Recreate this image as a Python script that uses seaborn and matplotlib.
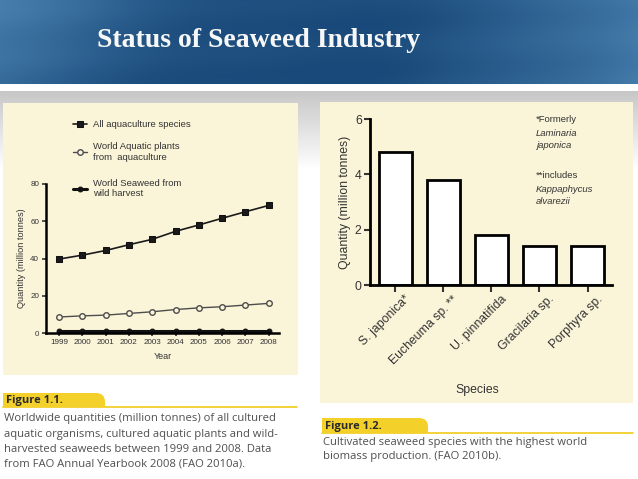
import numpy as np
import matplotlib
matplotlib.use("Agg")
import matplotlib.pyplot as plt
import seaborn as sns
from matplotlib.patches import Rectangle, FancyBboxPatch
from matplotlib.transforms import ScaledTranslation

# Figure 1.1 - quantities (million tonnes)
years = [1999, 2000, 2001, 2002, 2003, 2004, 2005, 2006, 2007, 2008]
all_aquaculture = [39.7, 41.8, 44.3, 47.4, 50.3, 54.6, 58.0, 61.6, 65.1, 68.5]
aquatic_plants = [8.6, 9.2, 9.6, 10.5, 11.4, 12.6, 13.5, 14.1, 15.0, 15.9]
wild_seaweed = [1.1, 1.1, 1.1, 1.1, 1.1, 1.1, 1.1, 1.1, 1.1, 1.1]
line_labels = ["All aquaculture species",
               "World Aquatic plants\nfrom  aquaculture",
               "World Seaweed from\nwild harvest"]

# Figure 1.2 - cultivated seaweed species
species = ["S. japonica*", "Eucheuma sp. **", "U. pinnatifida", "Gracilaria sp.", "Porphyra sp."]
quantity = [4.8, 3.8, 1.8, 1.4, 1.4]

W, H = 638, 479
BEIGE = "#faf4d8"
YELLOW = "#f3d02a"
TXT = "#333333"
CAP = "#505050"


def fx(px):
    return px / W


def fy(py):
    return 1 - py / H


sns.set_theme(style="ticks")
plt.rcParams["font.family"] = ["Liberation Sans", "DejaVu Sans"]

fig = plt.figure(figsize=(W / 100, H / 100), dpi=100, facecolor="white")

# background layer in pixel coordinates
bg = fig.add_axes([0, 0, 1, 1])
bg.axis("off")

# blue banner (smooth water-like gradient)
xx, yy = np.meshgrid(np.linspace(0, 1, 320), np.linspace(0, 1, 42))
t = 0.9 * (xx - 0.45) ** 2 / 0.34
t = t + 0.30 * (1 - yy) * np.exp(-(xx / 0.28) ** 2)
t = t + 0.07 * np.sin(10 * xx + 6 * yy) * np.cos(5 * yy - 7 * xx)
t = np.clip(t * 0.85, 0, 1)
dark = np.array([0.10, 0.29, 0.48])
light = np.array([0.34, 0.57, 0.75])
img = dark[None, None, :] + (light - dark)[None, None, :] * t[:, :, None]
bg.imshow(img, extent=[0, W, 84, 0], aspect="auto", zorder=1)

# grey shadow band under banner
g = np.linspace(0.78, 1.0, 60)[:, None, None] * np.ones((1, 2, 3))
bg.imshow(g, extent=[0, W, 170, 91], aspect="auto", zorder=1)

# beige panels
bg.add_patch(Rectangle((3, 103), 295, 272, facecolor=BEIGE, edgecolor="none", zorder=2))
bg.add_patch(Rectangle((320, 102), 313, 301, facecolor=BEIGE, edgecolor="none", zorder=2))
bg.set_xlim(0, W)
bg.set_ylim(H, 0)

# title
bg.text(259, 40, "Status of Seaweed Industry", color="#f7f7f7", fontsize=20,
        fontweight="bold", family=["Liberation Serif", "DejaVu Serif"],
        ha="center", va="center", zorder=3)


def caption_tab(x0, x1, ytop, ybot, xline):
    bg.add_patch(FancyBboxPatch((x0, ytop), x1 - x0, (ybot - ytop) + 10,
                                boxstyle="round,pad=0,rounding_size=9",
                                facecolor=YELLOW, edgecolor="none", zorder=3))
    bg.add_patch(Rectangle((x0, ytop), (x1 - x0) * 0.6, ybot - ytop,
                           facecolor=YELLOW, edgecolor="none", zorder=3))
    bg.add_patch(Rectangle((x0, ybot), x1 - x0 + 2, 12,
                           facecolor="white", edgecolor="none", zorder=4))
    bg.plot([x0, xline], [ybot, ybot], color=YELLOW, lw=1.3, zorder=5)


caption_tab(3, 105, 393, 407, 297)
caption_tab(322, 428, 418, 433, 633)

cap_font = ["Open Sans", "DejaVu Sans"]
bg.text(6, 401, "Figure 1.1.", fontsize=8, fontweight="bold", color="#2a2a2a",
        family=cap_font, va="center", zorder=6)
bg.text(325, 426, "Figure 1.2.", fontsize=8, fontweight="bold", color="#2a2a2a",
        family=cap_font, va="center", zorder=6)
cap1 = ["Worldwide quantities (million tonnes) of all cultured",
        "aquatic organisms, cultured aquatic plants and wild-",
        "harvested seaweeds between 1999 and 2008. Data",
        "from FAO Annual Yearbook 2008 (FAO 2010a)."]
for i, line in enumerate(cap1):
    bg.text(4, 419 + 15 * i, line, fontsize=8.1, color=CAP, family=cap_font,
            va="center", zorder=6)
cap2 = ["Cultivated seaweed species with the highest world",
        "biomass production. (FAO 2010b)."]
for i, line in enumerate(cap2):
    bg.text(323, 442 + 15 * i, line, fontsize=8.1, color=CAP, family=cap_font,
            va="center", zorder=6)

# ---------------- Figure 1.1 line chart ----------------
ax1 = fig.add_axes([fx(46), fy(333), fx(279) - fx(46), fy(184) - fy(333)])
ax1.set_facecolor("none")
sns.lineplot(x=years, y=all_aquaculture, ax=ax1, color="#1a1a1a", lw=1.2,
             marker="s", markersize=4.5, markeredgecolor="#111111",
             label=line_labels[0], clip_on=False)
sns.lineplot(x=years, y=aquatic_plants, ax=ax1, color="#4d4d4d", lw=1.0,
             marker="o", markersize=4, markerfacecolor=BEIGE,
             markeredgecolor="#4d4d4d", markeredgewidth=1.0,
             label=line_labels[1], clip_on=False)
sns.lineplot(x=years, y=wild_seaweed, ax=ax1, color="#111111", lw=2.2,
             marker="o", markersize=3.5, markeredgecolor="#111111",
             label=line_labels[2], clip_on=False)
ax1.set_xlim(1998.44, 2008.44)
ax1.set_ylim(0, 80)
ax1.set_xticks(years)
ax1.set_yticks([0, 20, 40, 60, 80])
ax1.tick_params(axis="both", labelsize=5.8, colors=TXT, width=1.2, length=3, pad=2)
ax1.tick_params(axis="x", direction="inout", length=5)
for s in ["left", "bottom"]:
    ax1.spines[s].set_linewidth(1.8)
    ax1.spines[s].set_color("black")
sns.despine(ax=ax1)
ax1.set_xlabel("Year", fontsize=6.5, color=TXT, labelpad=4)
ax1.set_ylabel("Quantity (million tonnes)", fontsize=6.6, color=TXT, labelpad=3)

handles, labels = ax1.get_legend_handles_labels()
leg_kw = dict(loc="upper left", frameon=False, fontsize=6.8, borderpad=0,
              borderaxespad=0, handlelength=1.5, handletextpad=0.65,
              labelspacing=1.4, labelcolor=TXT, bbox_transform=fig.transFigure)
leg_top = ax1.legend(handles[:2], labels[:2], bbox_to_anchor=(fx(73), fy(120)), **leg_kw)
ax1.add_artist(leg_top)
ax1.legend(handles[2:], labels[2:], bbox_to_anchor=(fx(73), fy(179)), **leg_kw)

# ---------------- Figure 1.2 bar chart ----------------
ax2 = fig.add_axes([fx(370), fy(285), fx(612) - fx(370), fy(119) - fy(285)])
ax2.set_facecolor("none")
sns.barplot(x=species, y=quantity, ax=ax2, color="white", saturation=1,
            edgecolor="black", linewidth=2, width=0.69)
ax2.set_xlim(-0.53, 4.51)
ax2.set_ylim(0, 6)
ax2.set_yticks([0, 2, 4, 6])
ax2.set_xticks(range(len(species)))
ax2.set_xticklabels(species, rotation=45, ha="right", rotation_mode="anchor")
ax2.tick_params(axis="both", labelsize=8.8, colors=TXT, width=1.5, length=4, pad=2)
ax2.tick_params(axis="x", length=5, pad=1)
shift = ScaledTranslation(9 / 100, 0, fig.dpi_scale_trans)
for lbl in ax2.get_xticklabels():
    lbl.set_transform(lbl.get_transform() + shift)
for s in ["left", "bottom"]:
    ax2.spines[s].set_linewidth(2)
    ax2.spines[s].set_color("black")
sns.despine(ax=ax2)
ax2.set_ylabel("Quantity (million tonnes)", fontsize=8.8, color=TXT, labelpad=3)
ax2.set_xlabel("")
fig.text(fx(477), fy(390), "Species", fontsize=8.8, color=TXT, ha="center", va="center")

notes = [("*Formerly", "normal", 120), ("Laminaria", "italic", 133),
         ("japonica", "italic", 146), ("**includes", "normal", 176),
         ("Kappaphycus", "italic", 189), ("alvarezii", "italic", 202)]
for txt, sty, py in notes:
    fig.text(fx(536), fy(py), txt, fontsize=6.8, style=sty, color=TXT, va="center")

fig.savefig("out.png", dpi=100, facecolor="white")
